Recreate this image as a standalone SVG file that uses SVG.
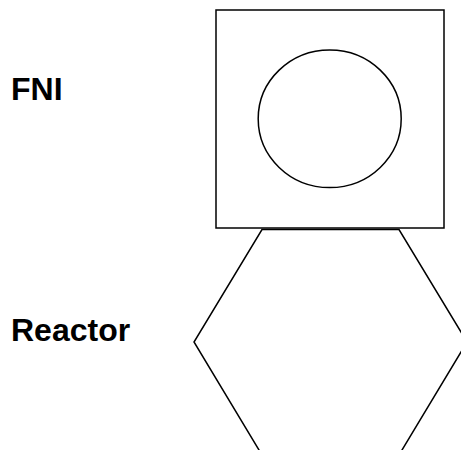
<svg xmlns="http://www.w3.org/2000/svg" width="461" height="450" viewBox="0 0 461 450">
<style>
.shape{fill:none;stroke:#000;stroke-width:1.5}
.label{font-family:"Liberation Sans",Arial,sans-serif;font-weight:bold;font-size:32px;fill:#000}
</style>
<rect width="461" height="450" fill="#fff"/>
<g id="label-fni"><text class="label" x="11" y="100">FNI</text></g>
<g id="label-reactor"><text class="label" x="11" y="341">Reactor</text></g>
<g id="fni">
<rect class="shape" x="216" y="10" width="228" height="218"/>
<ellipse class="shape" cx="329.7" cy="118.8" rx="71.5" ry="68.8" stroke-width="1.3"/>
</g>
<g id="reactor">
<polygon class="shape" stroke-width="1.3" points="262,229.5 399,229.5 467,342 399,455 262,455 194,342"/>
</g>
<g id="connectors"></g>
</svg>
